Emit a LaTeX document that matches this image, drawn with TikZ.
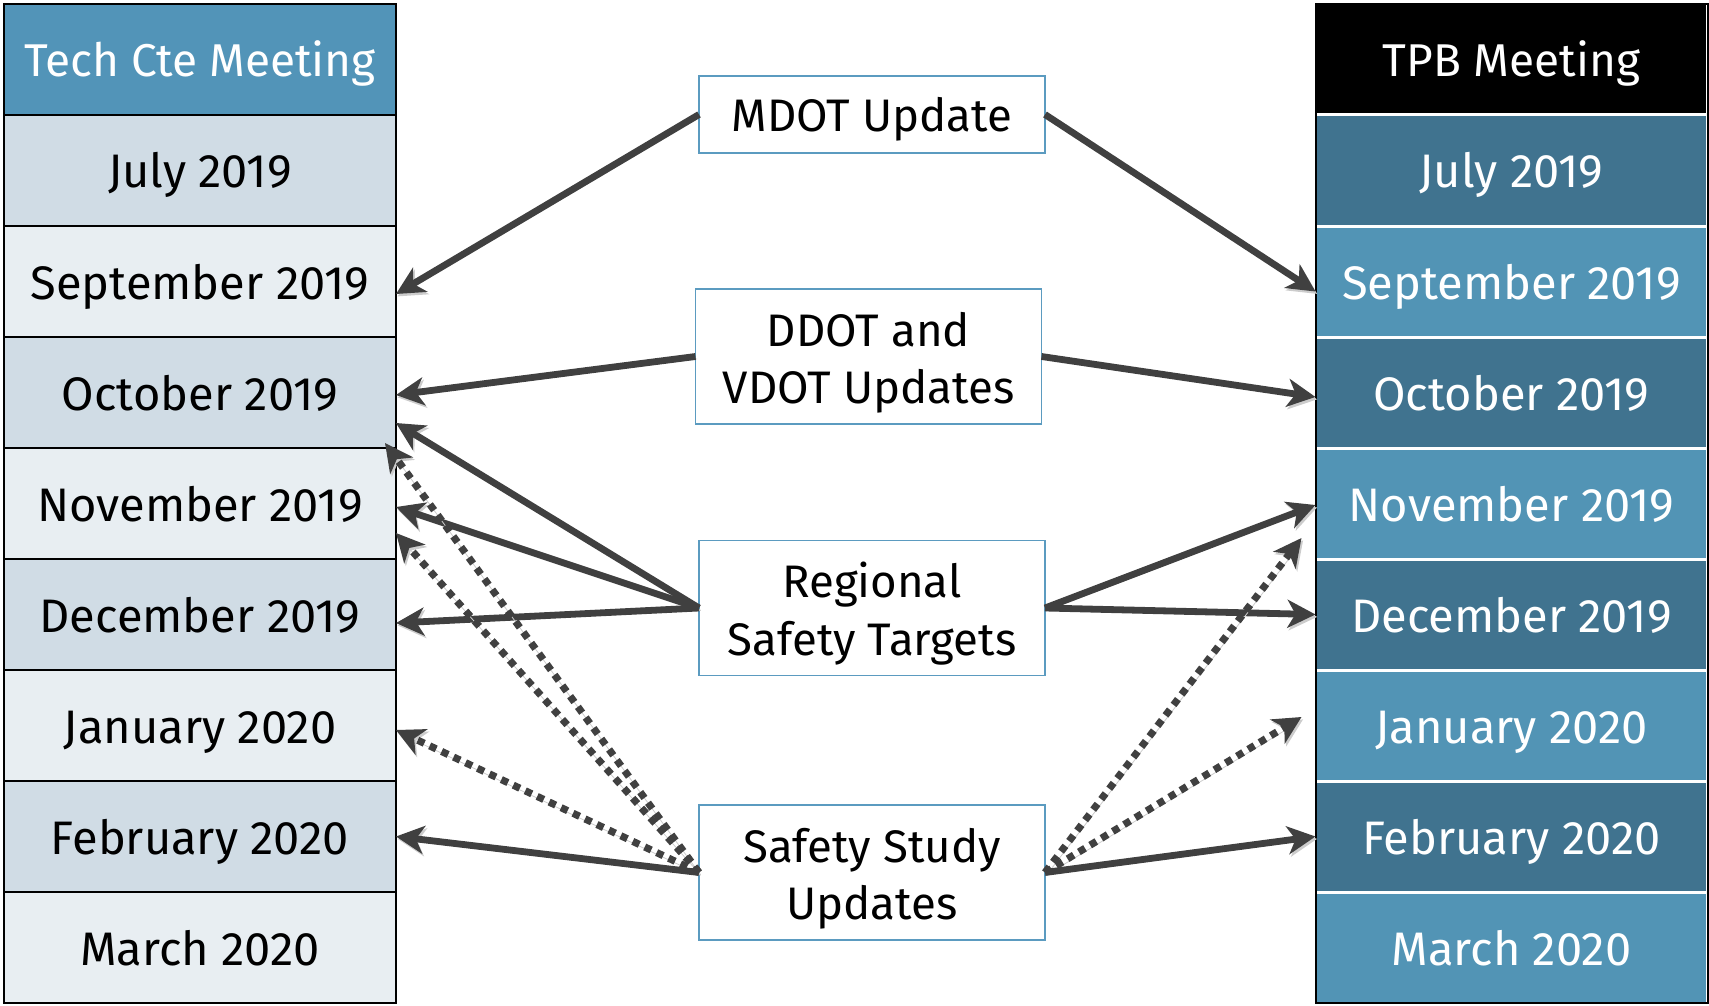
\documentclass[tikz,border=0pt]{standalone}
\usepackage{fontspec}
\setmainfont{Fira Sans}
\usetikzlibrary{arrows.meta,positioning}
\definecolor{tcdark}{HTML}{D0DCE5}
\definecolor{tclight}{HTML}{E8EEF2}
\definecolor{tctop}{HTML}{5294B8}
\definecolor{tpbdark}{HTML}{40738F}
\definecolor{tpblight}{HTML}{5294B5}
\definecolor{boxline}{HTML}{5B9BC0}
\definecolor{arrowgray}{HTML}{404040}
\tikzset{
  cell/.style={minimum width=196pt, minimum height=55.5pt, inner sep=0pt, outer sep=0pt,
    text height=20pt, text depth=2.5pt, font=\fontsize{23.5}{28}\selectfont},
  headcell/.style={font=\fontsize{23}{28}\selectfont, text=white},
  tccell/.style={cell, draw=black, line width=1pt},
  tpbcell/.style={cell, draw=white, line width=1.5pt, text=white},
  topic/.style={draw=boxline, line width=0.8pt, fill=white, inner sep=0pt, outer sep=0pt,
    minimum width=173pt, text height=20pt, text depth=2.5pt,
    font=\fontsize{22.8}{28.75}\selectfont},
  link/.style={draw=arrowgray, line width=3.4pt,
    -{Stealth[length=14pt,width=14pt,inset=4pt]},
    preaction={draw=black!20, transform canvas={shift={(0.8pt,-1.2pt)}}}},
  maybe/.style={link, line width=3.6pt, dash pattern=on 3.6pt off 3pt}
}
\begin{document}
\begin{tikzpicture}[x=0.5pt,y=-0.5pt]
  \useasboundingbox (0,0) rectangle (1709,1006);
  \node[tccell, headcell, fill=tctop] (tc-head) at (200,59.5) {Tech Cte Meeting};
  \node[tccell, fill=tcdark, below=0pt of tc-head] (tc-jul) {July 2019};
  \node[tccell, fill=tclight, below=0pt of tc-jul] (tc-sep) {September 2019};
  \node[tccell, fill=tcdark, below=0pt of tc-sep] (tc-oct) {October 2019};
  \node[tccell, fill=tclight, below=0pt of tc-oct] (tc-nov) {November 2019};
  \node[tccell, fill=tcdark, below=0pt of tc-nov] (tc-dec) {December 2019};
  \node[tccell, fill=tclight, below=0pt of tc-dec] (tc-jan) {January 2020};
  \node[tccell, fill=tcdark, below=0pt of tc-jan] (tc-feb) {February 2020};
  \node[tccell, fill=tclight, below=0pt of tc-feb] (tc-mar) {March 2020};

  \node[tpbcell, headcell, fill=black] (tpb-head) at (1511.5,59.5) {TPB Meeting};
  \node[tpbcell, fill=tpbdark, below=0pt of tpb-head] (tpb-jul) {July 2019};
  \node[tpbcell, fill=tpblight, below=0pt of tpb-jul] (tpb-sep) {September 2019};
  \node[tpbcell, fill=tpbdark, below=0pt of tpb-sep] (tpb-oct) {October 2019};
  \node[tpbcell, fill=tpblight, below=0pt of tpb-oct] (tpb-nov) {November 2019};
  \node[tpbcell, fill=tpbdark, below=0pt of tpb-nov] (tpb-dec) {December 2019};
  \node[tpbcell, fill=tpblight, below=0pt of tpb-dec] (tpb-jan) {January 2020};
  \node[tpbcell, fill=tpbdark, below=0pt of tpb-jan] (tpb-feb) {February 2020};
  \node[tpbcell, fill=tpblight, below=0pt of tpb-feb] (tpb-mar) {March 2020};
  \draw[line width=1pt] (tpb-head.north west) rectangle (tpb-mar.south east);

  \node[topic, minimum height=38.5pt] (mdot) at (872,114.5) {MDOT Update};
  \node[topic, minimum height=67.5pt] (ddot) at (868.5,356.5)
    {\begin{tabular}{@{}c@{}}DDOT and\\VDOT Updates\end{tabular}};
  \node[topic, minimum height=67.5pt] (rst) at (872,608)
    {\begin{tabular}{@{}c@{}}Regional\\Safety Targets\end{tabular}};
  \node[topic, minimum height=67.5pt] (ssu) at (872,872.5)
    {\begin{tabular}{@{}c@{}}Safety Study\\Updates\end{tabular}};

  \draw[link] (mdot.west) -- ([yshift=-6.25pt]tc-sep.east);
  \draw[link] (mdot.east) -- ([yshift=-5pt]tpb-sep.west);
  \draw[link] (ddot.west) -- ([yshift=-1.25pt]tc-oct.east);
  \draw[link] (ddot.east) -- ([yshift=-2.25pt]tpb-oct.west);
  \draw[link] (rst.west) -- ([yshift=-15.25pt]tc-oct.east);
  \draw[link] (rst.west) -- ([yshift=-1.75pt]tc-nov.east);
  \draw[link] (rst.west) -- ([yshift=-4.25pt]tc-dec.east);
  \draw[link] (rst.east) -- ([yshift=-0.75pt]tpb-nov.west);
  \draw[link] (rst.east) -- (tpb-dec.west);
  \draw[maybe] (ssu.west) -- ([shift={(-5.5pt,2.5pt)}]tc-oct.south east);
  \draw[maybe] (ssu.west) -- ([yshift=-14.75pt]tc-nov.east);
  \draw[maybe] (ssu.west) -- ([yshift=-2.25pt]tc-jan.east);
  \draw[link] (ssu.west) -- (tc-feb.east);
  \draw[maybe] (ssu.east) -- ([shift={(-7pt,-17.25pt)}]tpb-nov.west);
  \draw[maybe] (ssu.east) -- ([shift={(-7pt,4.25pt)}]tpb-jan.west);
  \draw[link] (ssu.east) -- (tpb-feb.west);
\end{tikzpicture}
\end{document}
